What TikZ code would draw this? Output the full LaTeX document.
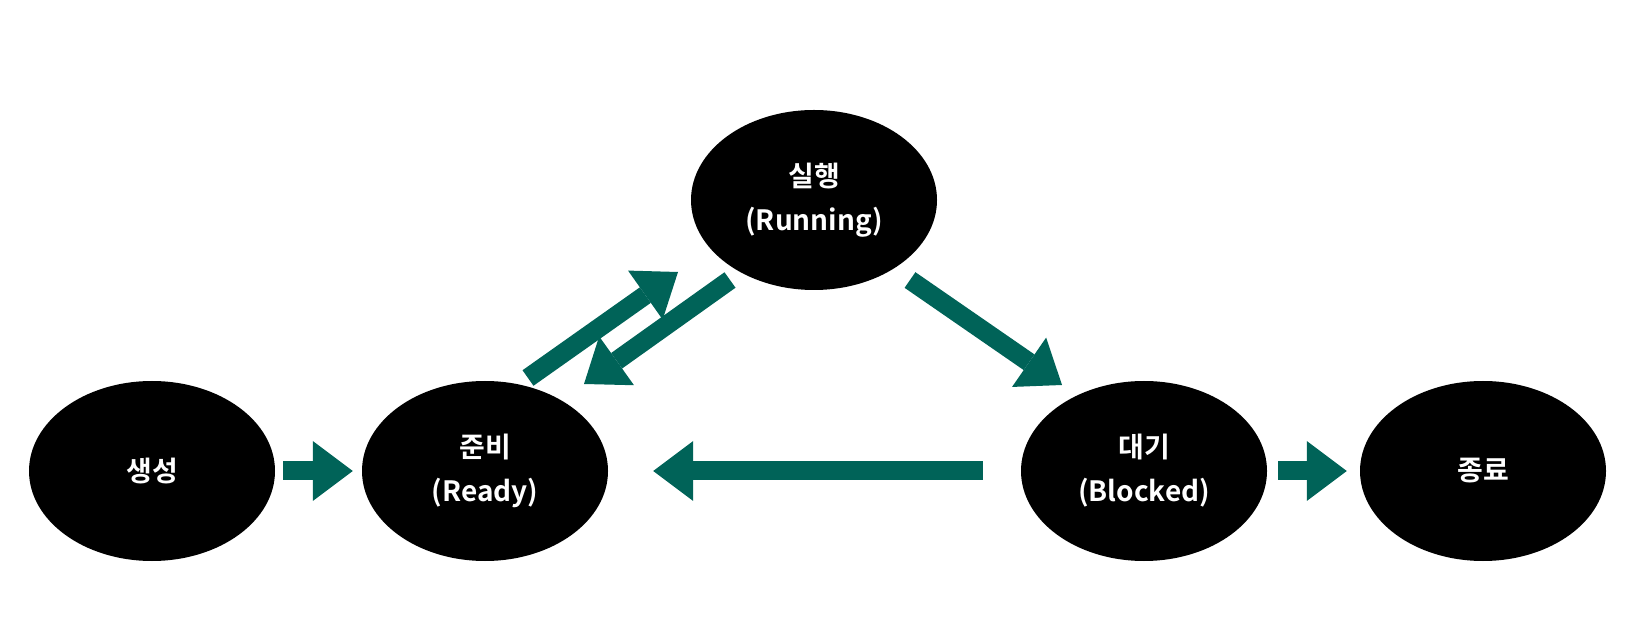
\documentclass[tikz,border=0pt]{standalone}
\usepackage{fontspec}
\setmainfont{Noto Sans CJK KR}[BoldFont={Noto Sans CJK KR Bold}]
\usetikzlibrary{arrows.meta,shapes.geometric}
\definecolor{flowgreen}{RGB}{0,99,88}

\begin{document}
\begin{tikzpicture}[x=1pt,y=1pt,
        state/.style={ellipse,fill=black,text=white,minimum width=246pt,minimum height=180pt,
            inner sep=0pt,align=center,font=\fontsize{28}{44}\selectfont\bfseries},
        flow/.style={draw=flowgreen,line width=19pt,
            -{Triangle[width=60pt,length=40pt,line width=0pt]}}]
        \useasboundingbox (0,0) rectangle (1637,621);
        \node[state] (gen) at (152,150) {생성};
        \node[state] (ready) at (485,150) {준비\\(Ready)};
        \node[state] (run) at (814,421) {실행\\(Running)};
        \node[state] (block) at (1144,150) {대기\\(Blocked)};
        \node[state] (term) at (1483,150) {종료};

        \draw[flow,shorten <=8pt,shorten >=9pt] (gen.east) -- (ready.west);
        \draw[flow,shorten <=11pt,shorten >=13pt] (block.east) -- (term.west);
        \draw[flow,shorten <=38pt,shorten >=45pt] (block.west) -- (ready.east);
        \draw[flow] ([shift={(43,93)}]ready.center) -- ([shift={(-136,-72)}]run.center);
        \draw[flow] ([shift={(-84,-80)}]run.center) -- ([shift={(99,87)}]ready.center);
        \draw[flow] ([shift={(96,-80)}]run.center) -- ([shift={(-82,86)}]block.center);
    \end{tikzpicture}
\end{document}
